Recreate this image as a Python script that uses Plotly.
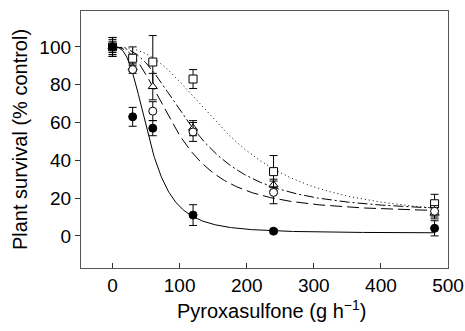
import numpy as np
import plotly.graph_objects as go

# Observed data
dose = [0, 30, 60, 120, 240, 480]
filled_circle = [100, 63, 57, 11, 2.5, 4]
filled_circle_err = [4, 5, 4, 5.5, 1, 4]
open_circle = [100, 88, 66, 55, 23, 13]
open_circle_err = [5, 2, 5, 5, 6, 3]
triangle = [100, 89, 79, 57, 27, 12]
triangle_err = [3, 2, 7, 4, 3, 3]
square = [100, 94, 92, 83, 34, 17]
square_err = [5, 6, 14, 5, 8.5, 5]

# Fitted log-logistic parameters: lower c, upper d, ED50 e, slope b
fit_filled = dict(c=1.5, d=100, e=55, b=3.0)
fit_open = dict(c=12, d=100, e=95, b=2.5)
fit_tri = dict(c=12, d=100, e=122, b=2.5)
fit_sq = dict(c=9, d=100, e=170, b=2.6)

xticks = [0, 100, 200, 300, 400, 500]
yticks = [0, 20, 40, 60, 80, 100]

xs = np.linspace(0, 480, 400)


def ll(p):
    return p["c"] + (p["d"] - p["c"]) / (1 + (xs / p["e"]) ** p["b"])


fig = go.Figure()

curves = [
    (fit_sq, "1px,3px"),
    (fit_tri, "10px,3px,2px,3px"),
    (fit_open, "12px,5px"),
    (fit_filled, "solid"),
]
for p, dash in curves:
    fig.add_trace(go.Scatter(x=xs, y=ll(p), mode="lines",
                             line=dict(color="black", width=1, dash=dash),
                             hoverinfo="skip", showlegend=False))

series = [
    (square, square_err, "square", "white"),
    (triangle, triangle_err, "triangle-up", "white"),
    (open_circle, open_circle_err, "circle", "white"),
    (filled_circle, filled_circle_err, "circle", "black"),
]
for y, err, sym, fill in series:
    fig.add_trace(go.Scatter(
        x=dose, y=y, mode="markers",
        marker=dict(symbol=sym, size=8, color=fill,
                    line=dict(color="black", width=1)),
        error_y=dict(type="data", array=err, visible=True,
                     color="black", thickness=1, width=4),
        showlegend=False))

font_family = "Liberation Sans, Arial, sans-serif"
fig.update_layout(
    template="none",
    width=465, height=331,
    margin=dict(l=81, r=17, t=11, b=63, autoexpand=False),
    paper_bgcolor="white", plot_bgcolor="white",
    font=dict(family=font_family, size=20, color="black"),
    showlegend=False,
)
fig.update_xaxes(
    range=[-47, 500], tickvals=xticks, ticks="inside", ticklen=5,
    tickcolor="#333", showgrid=False, zeroline=False, automargin=False,
    showline=True, linecolor="#555", linewidth=1.3, mirror=True,
    tickfont=dict(size=19),
)
fig.update_yaxes(
    range=[-17, 119], tickvals=yticks, ticks="outside", ticklen=5,
    tickcolor="#333", showgrid=False, zeroline=False, automargin=False,
    showline=True, linecolor="#555", linewidth=1.3, mirror=True,
    tickfont=dict(size=19),
    title=dict(text="Plant survival (% control)", font=dict(size=20), standoff=6),
)
fig.add_annotation(
    text="Pyroxasulfone (g h<sup>−1</sup>)", xref="paper", yref="paper",
    x=0.52, y=-0.16, xanchor="center", yanchor="middle", showarrow=False,
    font=dict(size=20),
)

fig.write_html("out.html", config={"displayModeBar": False},
               post_script="document.body.style.margin='0';")
